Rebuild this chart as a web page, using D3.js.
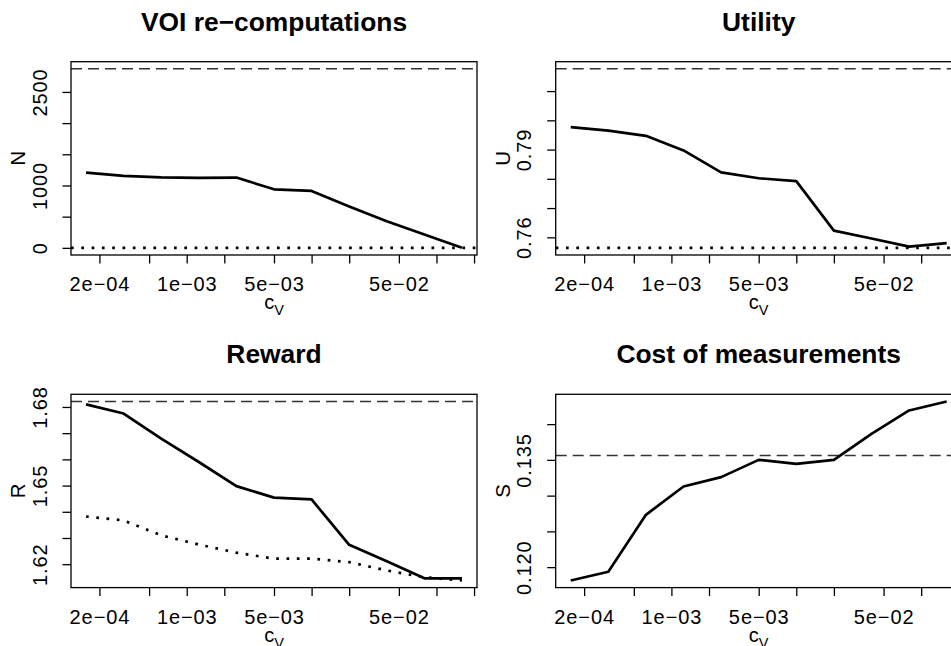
<!DOCTYPE html>
<html>
<head>
<meta charset="utf-8">
<script src="https://cdn.jsdelivr.net/npm/d3@7"></script>
<style>
  body { margin: 0; background: #fff; }
  text { font-family: "Liberation Sans", Arial, Helvetica, sans-serif; fill: #000; }
</style>
</head>
<body>
<div id="chart"></div>
<script>
// x values (cost of a VOI computation), shared by all four panels
var cv = [1.5625e-4, 3.125e-4, 6.25e-4, 1.25e-3, 2.5e-3, 5e-3, 1e-2, 2e-2, 4e-2, 8e-2, 1.6e-1];
var xTicks = [2e-4, 5e-4, 1e-3, 2e-3, 5e-3, 1e-2, 2e-2, 5e-2, 1e-1, 2e-1];
var xTickLabels = ["2e\u221204", "", "1e\u221203", "", "5e\u221203", "", "", "5e\u221202", "", ""];

// VOI re-computations
var nCount = [1207, 1154, 1131, 1122, 1127, 939, 913, 662, 426, 213, 0];
var nUpper = 2870, nLower = 0;
var nTicks = [0, 500, 1000, 1500, 2000, 2500];
var nTickLabels = ["0", "", "1000", "", "", "2500"];

// Utility
var utility = [0.7977, 0.7965, 0.7947, 0.7897, 0.7822, 0.7802, 0.7792, 0.7623, 0.7596, 0.7568, 0.7580];
var uUpper = 0.8176, uLower = 0.7564;
var uTicks = [0.76, 0.77, 0.78, 0.79, 0.80, 0.81];
var uTickLabels = ["0.76", "", "", "0.79", "", ""];

// Reward
var reward = [1.6810, 1.6775, 1.6679, 1.6590, 1.6498, 1.6454, 1.6447, 1.6274, 1.6211, 1.6146, 1.6146];
var rewardLow = [1.6382, 1.6367, 1.6310, 1.6275, 1.6244, 1.6221, 1.6221, 1.6208, 1.6176, 1.6150, 1.6138];
var rUpper = 1.6821;
var rTicks = [1.62, 1.63, 1.64, 1.65, 1.66, 1.67, 1.68];
var rTickLabels = ["1.62", "", "", "1.65", "", "", "1.68"];

// Cost of measurements
var cost = [0.11814, 0.11935, 0.12732, 0.13128, 0.13259, 0.1350, 0.13444, 0.1350, 0.13865, 0.14191, 0.14317];
var sUpper = 0.1356;
var sTicks = [0.120, 0.125, 0.130, 0.135, 0.140];
var sTickLabels = ["0.120", "", "", "0.135", ""];

var panels = [
  {title: "VOI re\u2212computations", ylab: "N", left: 71, top: 61.7,
   series: [nCount], ext: [nCount, [nUpper, nLower]], dashed: nUpper, dotted: nLower,
   ticks: nTicks, labels: nTickLabels},
  {title: "Utility", ylab: "U", left: 555.7, top: 61.7,
   series: [utility], ext: [utility, [uUpper, uLower]], dashed: uUpper, dotted: uLower,
   ticks: uTicks, labels: uTickLabels},
  {title: "Reward", ylab: "R", left: 71, top: 394.3,
   series: [reward], low: rewardLow, ext: [reward, rewardLow, [rUpper]], dashed: rUpper,
   ticks: rTicks, labels: rTickLabels},
  {title: "Cost of measurements", ylab: "S", left: 555.7, top: 394.3,
   series: [cost], ext: [cost], dashed: sUpper,
   ticks: sTicks, labels: sTickLabels}
];

var boxW = 406, boxH = 193.3, tickLen = 8.5;
var fs = "20px", ls = "0.9px";

var svg = d3.select("#chart").append("svg")
    .attr("width", 951).attr("height", 646)
    .attr("viewBox", "0 0 951 646");

// R style axis range: data range extended by 4% each side
function rRange(vals) {
  var e = d3.extent(vals);
  var d = (e[1] - e[0]) * 0.04;
  return [e[0] - d, e[1] + d];
}

var lx = d3.extent(cv).map(Math.log10);
var dx = (lx[1] - lx[0]) * 0.04;
var xDomain = [Math.pow(10, lx[0] - dx), Math.pow(10, lx[1] + dx)];

panels.forEach(function(p, i) {
  var g = svg.append("g").attr("transform", "translate(" + p.left + "," + p.top + ")");

  var x = d3.scaleLog().domain(xDomain).range([0, boxW]);
  var y = d3.scaleLinear().domain(rRange(d3.merge(p.ext))).range([boxH, 0]);

  g.append("clipPath").attr("id", "clip" + i)
    .append("rect").attr("width", boxW).attr("height", boxH);

  var plot = g.append("g").attr("clip-path", "url(#clip" + i + ")");

  var line = d3.line()
      .x(function(d, j) { return x(cv[j]); })
      .y(function(d) { return y(d); });

  // reference lines
  plot.append("line")
    .attr("x1", 0).attr("x2", boxW)
    .attr("y1", y(p.dashed)).attr("y2", y(p.dashed))
    .attr("stroke", "#333").attr("stroke-width", 1.5)
    .attr("stroke-dasharray", "11,6");

  if (p.dotted !== undefined) {
    plot.append("line")
      .attr("x1", 0).attr("x2", boxW)
      .attr("y1", y(p.dotted)).attr("y2", y(p.dotted))
      .attr("stroke", "#000").attr("stroke-width", 2.7)
      .attr("stroke-dasharray", "2.7,7.6");
  }

  if (p.low) {
    plot.append("path")
      .attr("d", line(p.low))
      .attr("fill", "none").attr("stroke", "#000").attr("stroke-width", 2.7)
      .attr("stroke-dasharray", "2.7,7.6");
  }

  p.series.forEach(function(s) {
    plot.append("path")
      .attr("d", line(s))
      .attr("fill", "none").attr("stroke", "#000").attr("stroke-width", 2.7)
      .attr("stroke-linejoin", "round");
  });

  // box
  g.append("rect").attr("width", boxW).attr("height", boxH)
    .attr("fill", "none").attr("stroke", "#000").attr("stroke-width", 1.3);

  // x axis
  var xAxis = d3.axisBottom(x).tickValues(xTicks)
      .tickSize(tickLen).tickPadding(0)
      .tickFormat(function(d, j) { return xTickLabels[j]; });
  var gx = g.append("g").attr("transform", "translate(0," + boxH + ")").call(xAxis);
  gx.select(".domain").remove();
  gx.selectAll(".tick line").attr("stroke", "#000").attr("stroke-width", 1.3);
  gx.selectAll(".tick text")
    .attr("y", 36.3).attr("dy", null)
    .attr("font-family", null)
    .style("font-size", fs).style("letter-spacing", ls);

  // y axis
  var yAxis = d3.axisLeft(y).tickValues(p.ticks)
      .tickSize(tickLen).tickPadding(0)
      .tickFormat(function(d, j) { return p.labels[j]; });
  var gy = g.append("g").call(yAxis);
  gy.select(".domain").remove();
  gy.selectAll(".tick line").attr("stroke", "#000").attr("stroke-width", 1.3);
  gy.selectAll(".tick text")
    .attr("x", null).attr("dy", null)
    .attr("text-anchor", "middle")
    .attr("transform", "translate(-24.3,0) rotate(-90)")
    .attr("font-family", null)
    .style("font-size", fs).style("letter-spacing", ls);

  // titles
  g.append("text")
    .attr("x", boxW / 2).attr("y", -31)
    .attr("text-anchor", "middle")
    .style("font-size", "26.4px").style("font-weight", "bold")
    .text(p.title);

  g.append("text")
    .attr("transform", "translate(-46," + (boxH / 2) + ") rotate(-90)")
    .attr("text-anchor", "middle")
    .style("font-size", "20.5px")
    .text(p.ylab);

  var xl = g.append("text")
    .attr("x", boxW / 2).attr("y", boxH + 54.5)
    .attr("text-anchor", "middle")
    .style("font-size", "20px");
  xl.append("tspan").text("c");
  xl.append("tspan").attr("dy", 5.5).style("font-size", "14.5px").text("V");
});
</script>
</body>
</html>
